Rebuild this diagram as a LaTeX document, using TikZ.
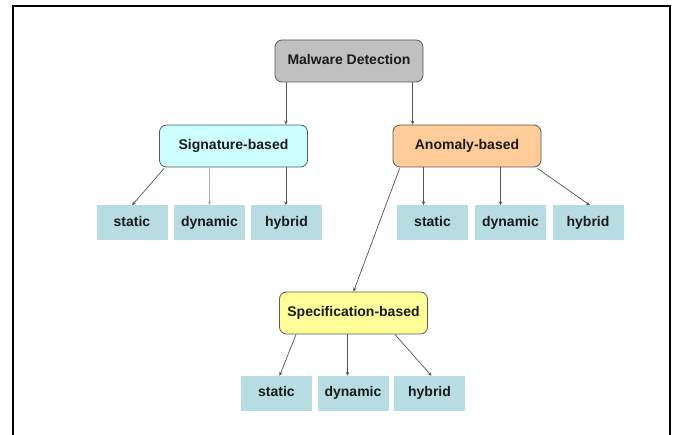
\documentclass[tikz,border=0pt]{standalone}
\usepackage{fontspec}
\setmainfont{Liberation Sans}
\usetikzlibrary{arrows.meta}
\definecolor{headgray}{HTML}{C0C0C0}
\definecolor{sigcyan}{HTML}{CCFFFF}
\definecolor{anomorange}{HTML}{FFCC99}
\definecolor{specyellow}{HTML}{FFFF99}
\definecolor{leafblue}{HTML}{B7DDE3}
\definecolor{linkgray}{HTML}{555555}
\definecolor{labelink}{HTML}{1A1A1A}
\begin{document}
\begin{tikzpicture}[x=1pt,y=-1pt,
  catbox/.style={draw=gray!70!black, line width=0.8pt, rounded corners=7pt,
    minimum width=148pt, minimum height=42pt, text=labelink,
    font=\fontsize{14}{16}\selectfont\bfseries, inner sep=0pt,
    text height=10pt, text depth=3pt},
  leafbox/.style={fill=leafblue, minimum width=71pt, minimum height=35pt, text=labelink,
    font=\fontsize{14}{16}\selectfont\bfseries, inner sep=0pt,
    text height=10pt, text depth=3pt},
  link/.style={draw=linkgray, line width=0.7pt, -{Stealth[length=4pt,width=3.5pt]}},
  faint/.style={draw=gray!60, line width=0.6pt, -{Stealth[length=4pt,width=3.5pt]}}]
\useasboundingbox (0,0) rectangle (675,435);
% outer frame, open at the bottom
\draw[line width=1.8pt] (13,436) -- (13,6) -- (670,6) -- (670,436);

% category boxes
\node[catbox, fill=headgray]   (root) at (349,61)  {Malware Detection};
\node[catbox, fill=sigcyan]    (sig)  at (233.5,146) {Signature-based};
\node[catbox, fill=anomorange] (ano)  at (467,146) {Anomaly-based};
\node[catbox, fill=specyellow] (spec) at (353.5,313) {Specification-based};

% signature-based leaves
\node[leafbox] (sigS) at (132,223) {static};
\node[leafbox] (sigD) at (209.5,223) {dynamic};
\node[leafbox] (sigH) at (286.5,223) {hybrid};
% anomaly-based leaves
\node[leafbox] (anoS) at (432.5,223) {static};
\node[leafbox] (anoD) at (510.5,223) {dynamic};
\node[leafbox] (anoH) at (588,223) {hybrid};
% specification-based leaves
\node[leafbox] (specS) at (276.5,393.5) {static};
\node[leafbox] (specD) at (353,393.5) {dynamic};
\node[leafbox] (specH) at (429.5,393.5) {hybrid};

% connectors
\draw[link] (root.south -| sig.north east) ++(-22,0) coordinate (r1) -- (r1 |- sig.north);
\draw[link] (root.south -| ano.north west) ++(20,0) coordinate (r2) -- (r2 |- ano.north);

\draw[link] ([xshift=5pt,yshift=-1pt]sig.south west) -- (sigS.north);
\draw[faint] (sigD.north |- sig.south) -- (sigD.north);
\draw[link] ([xshift=-22pt]sig.south east) coordinate (s3) -- (s3 |- sigH.north);

\draw[link] ([xshift=7pt,yshift=-1pt]ano.south west) -- (spec.north);
\draw[link] ([xshift=-9pt]anoS.north |- ano.south) coordinate (a1) -- (a1 |- anoS.north);
\draw[link] ([xshift=-10pt]anoD.north |- ano.south) coordinate (a2) -- (a2 |- anoD.north);
\draw[link] ([xshift=-4pt,yshift=-1pt]ano.south east) -- ([xshift=2pt]anoH.north);

\draw[link] ([xshift=17pt]spec.south west) -- ([xshift=3pt]specS.north);
\draw[link] ([xshift=-6pt]spec.south) coordinate (p2) -- (p2 |- specD.north);
\draw[link] ([xshift=-33pt]spec.south east) -- ([xshift=2pt]specH.north);
\end{tikzpicture}
\end{document}
